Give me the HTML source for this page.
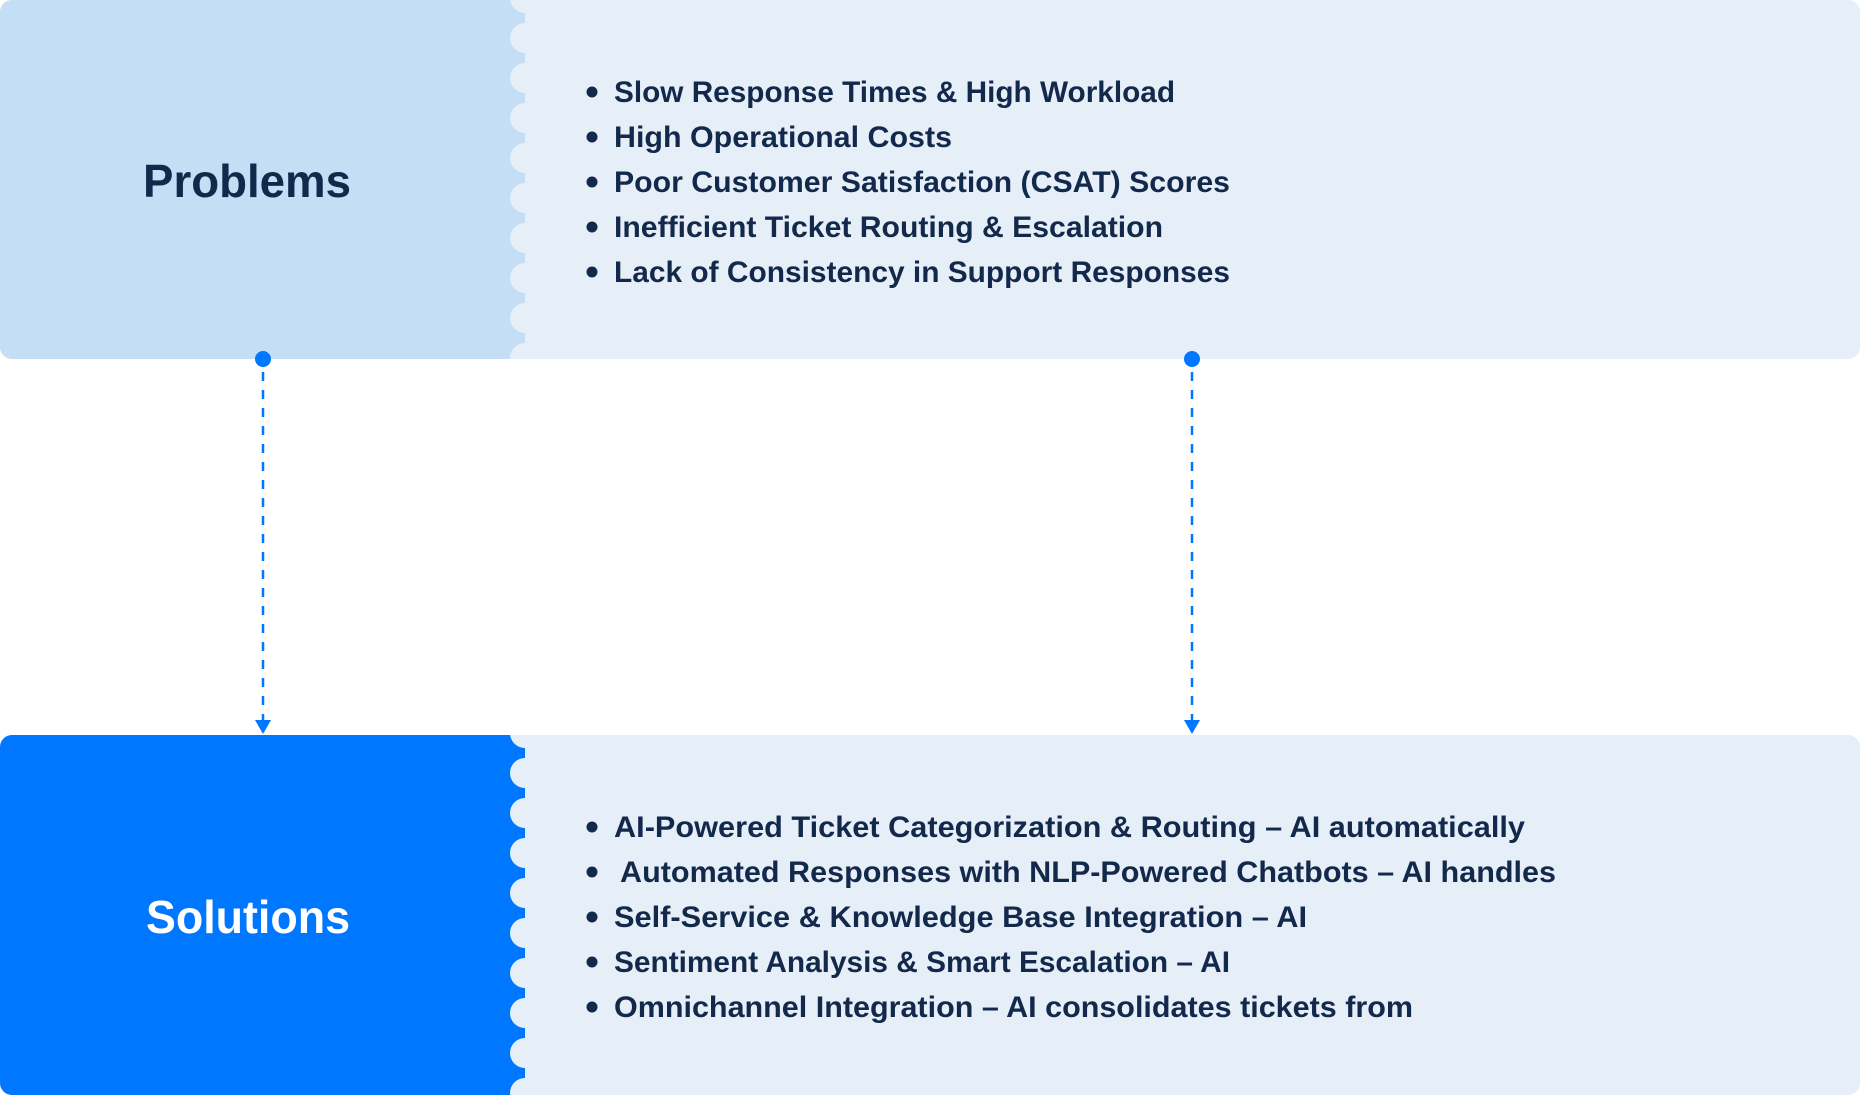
<!DOCTYPE html>
<html><head><meta charset="utf-8"><style>html,body{margin:0;padding:0;background:#fff}svg{display:block}</style></head>
<body>
<svg width="1860" height="1095" viewBox="0 0 1860 1095" xmlns="http://www.w3.org/2000/svg" font-family="Liberation Sans, sans-serif">
<defs>
<clipPath id="c1"><rect x="0" y="0" width="1860" height="359" rx="12"/></clipPath>
<clipPath id="c2"><rect x="0" y="735" width="1860" height="360" rx="12"/></clipPath>
</defs>
<g clip-path="url(#c1)">
<rect x="0" y="0" width="1860" height="359" fill="#E6EEF8"/>
<rect x="0" y="0" width="525" height="359" fill="#C4DEF6"/>
<g fill="#E6EEF8">
<circle cx="525" cy="-2" r="15"/><circle cx="525" cy="38" r="15"/><circle cx="525" cy="78" r="15"/><circle cx="525" cy="118" r="15"/><circle cx="525" cy="158" r="15"/><circle cx="525" cy="198" r="15"/><circle cx="525" cy="238" r="15"/><circle cx="525" cy="278" r="15"/><circle cx="525" cy="318" r="15"/><circle cx="525" cy="358" r="15"/>
</g>
</g>
<g clip-path="url(#c2)">
<rect x="0" y="735" width="1860" height="360" fill="#E6EEF8"/>
<rect x="0" y="735" width="525" height="360" fill="#0077FF"/>
<g fill="#E6EEF8">
<circle cx="525" cy="733" r="15"/><circle cx="525" cy="773" r="15"/><circle cx="525" cy="813" r="15"/><circle cx="525" cy="853" r="15"/><circle cx="525" cy="893" r="15"/><circle cx="525" cy="933" r="15"/><circle cx="525" cy="973" r="15"/><circle cx="525" cy="1013" r="15"/><circle cx="525" cy="1053" r="15"/><circle cx="525" cy="1093" r="15"/>
</g>
</g>
<g fill="#13294B" font-weight="bold" font-size="30">
<text x="143" y="197" font-size="46" textLength="208" lengthAdjust="spacingAndGlyphs">Problems</text>
<circle cx="592" cy="92" r="5.5"/><text x="614" y="102" textLength="561" lengthAdjust="spacingAndGlyphs">Slow Response Times &amp; High Workload</text>
<circle cx="592" cy="137" r="5.5"/><text x="614" y="147" textLength="338" lengthAdjust="spacingAndGlyphs">High Operational Costs</text>
<circle cx="592" cy="182" r="5.5"/><text x="614" y="192" textLength="616" lengthAdjust="spacingAndGlyphs">Poor Customer Satisfaction (CSAT) Scores</text>
<circle cx="592" cy="227" r="5.5"/><text x="614" y="237" textLength="549" lengthAdjust="spacingAndGlyphs">Inefficient Ticket Routing &amp; Escalation</text>
<circle cx="592" cy="272" r="5.5"/><text x="614" y="282" textLength="616" lengthAdjust="spacingAndGlyphs">Lack of Consistency in Support Responses</text>
<circle cx="592" cy="827" r="5.5"/><text x="614" y="837" textLength="911" lengthAdjust="spacingAndGlyphs">AI-Powered Ticket Categorization &amp; Routing – AI automatically</text>
<circle cx="592" cy="872" r="5.5"/><text x="620" y="882" textLength="936" lengthAdjust="spacingAndGlyphs">Automated Responses with NLP-Powered Chatbots – AI handles</text>
<circle cx="592" cy="917" r="5.5"/><text x="614" y="927" textLength="693" lengthAdjust="spacingAndGlyphs">Self-Service &amp; Knowledge Base Integration – AI</text>
<circle cx="592" cy="962" r="5.5"/><text x="614" y="972" textLength="616" lengthAdjust="spacingAndGlyphs">Sentiment Analysis &amp; Smart Escalation – AI</text>
<circle cx="592" cy="1007" r="5.5"/><text x="614" y="1017" textLength="799" lengthAdjust="spacingAndGlyphs">Omnichannel Integration – AI consolidates tickets from</text>
</g>
<text x="146" y="933" font-size="46" font-weight="bold" fill="#fff" textLength="204" lengthAdjust="spacingAndGlyphs">Solutions</text>
<g fill="#0077FF" stroke="none">
<circle cx="263" cy="359" r="8"/><circle cx="1192" cy="359" r="8"/>
<polygon points="255,720 271,720 263,734"/><polygon points="1184,720 1200,720 1192,734"/>
</g>
<g stroke="#0077FF" stroke-width="2.5" stroke-dasharray="9 9">
<line x1="263" y1="372" x2="263" y2="720"/><line x1="1192" y1="372" x2="1192" y2="720"/>
</g>
</svg>
</body></html>
